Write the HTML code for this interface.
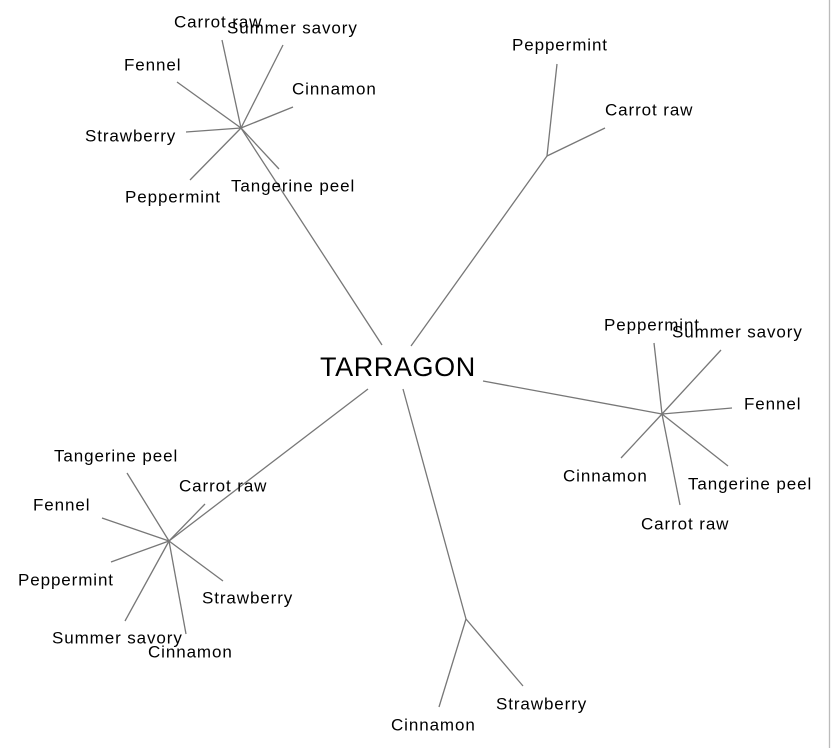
<!DOCTYPE html>
<html><head><meta charset="utf-8"><style>
html,body{margin:0;padding:0;background:#fff;}
svg{display:block;}
text{font-family:"Liberation Sans",Arial,sans-serif;font-size:17px;letter-spacing:0.9px;fill:#000;dominant-baseline:central;}
</style></head><body>
<svg width="831" height="748" viewBox="0 0 831 748" xmlns="http://www.w3.org/2000/svg">
<g stroke="#777" stroke-width="1.3" fill="none">
<line x1="829.5" y1="0" x2="829.5" y2="748" stroke="#bbb"/>
<line x1="241" y1="128" x2="382" y2="345"/>
<line x1="241" y1="128" x2="222" y2="40"/>
<line x1="241" y1="128" x2="283" y2="45"/>
<line x1="241" y1="128" x2="177" y2="82"/>
<line x1="241" y1="128" x2="293" y2="107"/>
<line x1="241" y1="128" x2="186" y2="132"/>
<line x1="241" y1="128" x2="190" y2="180"/>
<line x1="241" y1="128" x2="279" y2="169"/>
<line x1="169" y1="541" x2="368" y2="389"/>
<line x1="169" y1="541" x2="127" y2="473"/>
<line x1="169" y1="541" x2="205" y2="504"/>
<line x1="169" y1="541" x2="102" y2="518"/>
<line x1="169" y1="541" x2="111" y2="562"/>
<line x1="169" y1="541" x2="125" y2="621"/>
<line x1="169" y1="541" x2="186" y2="634"/>
<line x1="169" y1="541" x2="223" y2="581"/>
<line x1="662" y1="414" x2="483" y2="381"/>
<line x1="662" y1="414" x2="654" y2="343"/>
<line x1="662" y1="414" x2="721" y2="350"/>
<line x1="662" y1="414" x2="732" y2="408"/>
<line x1="662" y1="414" x2="728" y2="466"/>
<line x1="662" y1="414" x2="680" y2="505"/>
<line x1="662" y1="414" x2="621" y2="458"/>
<line x1="547" y1="156" x2="411" y2="346"/>
<line x1="547" y1="156" x2="557" y2="64"/>
<line x1="547" y1="156" x2="605" y2="128"/>
<line x1="466" y1="619" x2="403" y2="389"/>
<line x1="466" y1="619" x2="439" y2="707"/>
<line x1="466" y1="619" x2="523" y2="686"/>
</g>
<text x="320" y="367" style="font-size:27px;letter-spacing:0.6px">TARRAGON</text>
<text x="174" y="22">Carrot raw</text>
<text x="227" y="28">Summer savory</text>
<text x="124" y="65">Fennel</text>
<text x="292" y="89">Cinnamon</text>
<text x="85" y="136">Strawberry</text>
<text x="125" y="197">Peppermint</text>
<text x="231" y="186">Tangerine peel</text>
<text x="54" y="456">Tangerine peel</text>
<text x="179" y="486">Carrot raw</text>
<text x="33" y="505">Fennel</text>
<text x="18" y="580">Peppermint</text>
<text x="202" y="598">Strawberry</text>
<text x="52" y="638">Summer savory</text>
<text x="148" y="652">Cinnamon</text>
<text x="604" y="325">Peppermint</text>
<text x="672" y="332">Summer savory</text>
<text x="744" y="404">Fennel</text>
<text x="688" y="484">Tangerine peel</text>
<text x="641" y="524">Carrot raw</text>
<text x="563" y="476">Cinnamon</text>
<text x="512" y="45">Peppermint</text>
<text x="605" y="110">Carrot raw</text>
<text x="391" y="725">Cinnamon</text>
<text x="496" y="704">Strawberry</text>
</svg>
</body></html>
